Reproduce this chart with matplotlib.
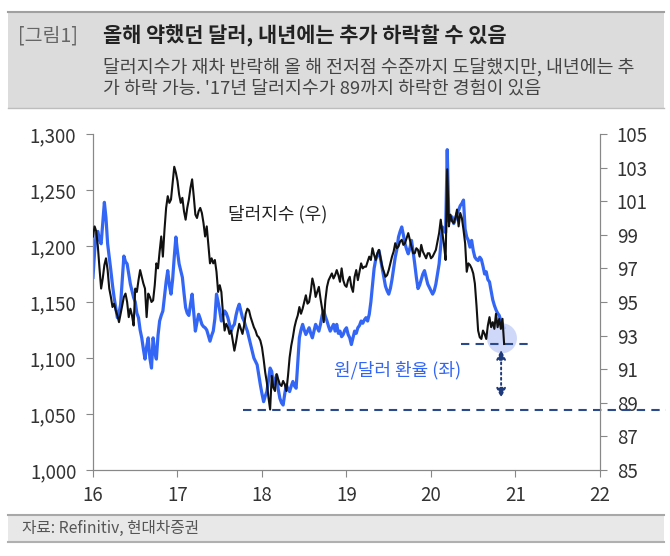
import numpy as np
import matplotlib
matplotlib.use("Agg")
import matplotlib.pyplot as plt
from matplotlib.patches import Rectangle, Ellipse

plt.rcParams["font.family"] = ["Noto Sans CJK KR", "DejaVu Sans"]
plt.rcParams["axes.unicode_minus"] = False

# --------------------------
# 데이터: 주간 (2016년 1주차부터)
# --------------------------
# 원/달러 환율 (좌축)
krw = [
    1172, 1195, 1211, 1213, 1205, 1202, 1220, 1239, 1225, 1202,
    1190, 1178, 1165, 1154, 1145, 1136, 1140, 1148, 1170, 1191,
    1186, 1184, 1175, 1166, 1160, 1154, 1150, 1140, 1136, 1125,
    1118, 1108, 1099, 1110, 1118, 1100, 1091, 1118, 1105, 1099,
    1120, 1133, 1138, 1142, 1155, 1168, 1178, 1165, 1157, 1170,
    1190, 1208, 1195, 1184, 1178, 1172, 1158, 1145, 1140, 1138,
    1148, 1157, 1140, 1124, 1132, 1139, 1135, 1130, 1128, 1127,
    1125, 1120, 1115, 1120, 1124, 1135, 1157, 1150, 1142, 1133,
    1138, 1142, 1140, 1136, 1130, 1124, 1128, 1130, 1138, 1144,
    1148, 1142, 1136, 1133, 1128, 1124, 1118, 1112, 1106, 1100,
    1097, 1094, 1085, 1076, 1068, 1061, 1066, 1070, 1080, 1091,
    1088, 1076, 1080, 1085, 1072, 1064, 1060, 1058, 1068, 1076,
    1072, 1070, 1075, 1079, 1075, 1073, 1095, 1118, 1125, 1130,
    1125, 1121, 1124, 1127, 1122, 1118, 1124, 1130, 1127, 1124,
    1130, 1138, 1142, 1137, 1133, 1128, 1124, 1127, 1130, 1124,
    1130, 1122, 1124, 1119, 1121, 1125, 1127, 1121, 1118, 1112,
    1118, 1124, 1122, 1127, 1129, 1133, 1131, 1134, 1136, 1133,
    1139, 1150, 1165, 1180, 1188, 1192, 1196, 1188, 1180, 1172,
    1164, 1160, 1157, 1162, 1170, 1180, 1190, 1197, 1208, 1213,
    1217, 1210, 1202, 1197, 1193, 1198, 1205, 1195, 1184, 1172,
    1162, 1165, 1170, 1175, 1178, 1172, 1166, 1163, 1160, 1157,
    1160, 1166, 1175, 1184, 1200, 1217, 1214, 1212, 1286, 1222,
    1225, 1226, 1220, 1224, 1229, 1232, 1236, 1238, 1241, 1215,
    1208, 1205, 1199, 1205, 1196, 1190, 1188, 1187, 1190, 1188,
    1182, 1175, 1177, 1170, 1168, 1160, 1152, 1147, 1143, 1140,
    1138, 1133, 1130, 1127,
]

# 달러지수 (우축)
dxy = [
    98.9, 99.5, 99.2, 98.3, 97.0, 95.8, 96.4, 97.2, 97.6, 96.9,
    95.8, 95.3, 94.7, 94.9, 94.5, 94.2, 93.8, 94.3, 94.8, 95.3,
    95.5, 95.0, 94.1, 94.6, 94.2, 93.6, 95.8, 95.6, 96.3, 96.9,
    96.5, 96.1, 95.8, 94.1, 95.5, 95.3, 95.0, 95.1, 96.0, 97.3,
    97.0, 98.0, 98.9, 97.7, 99.3, 100.6, 101.3, 100.9, 101.1, 102.1,
    103.05, 102.7, 102.2, 101.4, 100.9, 101.2, 100.4, 99.9, 100.6, 101.1,
    101.8, 102.3, 101.3, 100.2, 100.0, 100.4, 100.6, 100.3, 99.7, 98.9,
    99.5, 98.4, 97.3, 97.6, 97.3, 97.5, 96.8, 95.6, 96.0, 95.6,
    94.3, 93.3, 93.7, 93.5, 93.1, 93.3, 92.7, 92.1, 92.6, 93.2,
    93.7, 93.4, 93.1, 93.6, 94.3, 94.6, 94.5, 94.1, 93.8, 93.5,
    93.3, 93.0, 92.9, 92.7, 92.3, 91.6, 90.8, 90.2, 89.3, 88.6,
    90.6, 89.9, 89.7, 90.7, 90.4, 90.1, 90.0, 90.3, 90.1, 89.7,
    90.6, 91.7, 92.4, 92.9, 93.5, 93.9, 94.2, 94.7, 94.3, 94.6,
    95.0, 95.4, 94.9, 95.0, 95.6, 96.4, 96.0, 95.3, 95.6, 95.9,
    95.2, 94.6, 93.8, 95.1, 95.9, 96.3, 96.5, 96.7, 96.4, 96.6,
    96.9, 96.6, 96.2, 97.0, 96.3, 96.0, 95.9, 96.3, 96.5, 95.9,
    95.6, 96.5, 96.9, 96.3, 96.8, 97.3, 97.0, 97.1, 97.1, 97.4,
    97.7, 97.5, 98.2, 97.8, 97.5, 97.9, 98.1, 97.6, 97.1, 96.8,
    96.5, 96.6, 96.9, 97.3, 97.7, 98.0, 98.5, 98.2, 98.3, 98.6,
    98.7, 98.4, 98.5, 98.8, 99.1, 98.7, 98.3, 97.9, 97.9, 98.2,
    98.1, 97.7, 98.4, 98.0, 97.8, 97.6, 97.9, 97.9, 97.6, 97.7,
    97.9, 98.1, 98.6, 99.1, 99.9, 99.1, 98.4, 97.5, 102.9, 99.5,
    100.2, 99.8, 99.7, 100.0, 100.5, 99.5, 100.3, 100.0, 99.3, 98.5,
    96.8, 97.3, 97.2, 97.0, 96.7, 96.1, 94.8, 93.3, 92.9, 92.8,
    93.3, 93.1, 92.8, 93.6, 94.1, 93.5, 93.8, 93.4, 94.3, 93.5,
    94.0, 93.4, 94.0, 92.5,
]

krw_x = 16 + np.arange(len(krw)) / 52
dxy_x = 16 + np.arange(len(dxy)) / 52

low_2018 = 88.6     # '18년 달러지수 저점
now_level = 92.5    # 현재 수준

blue = "#3366F5"
navy = "#2B4A8C"

# --------------------------
# 그림
# --------------------------
fig = plt.figure(figsize=(6.7, 5.56), dpi=100)
fig.patch.set_facecolor("white")

# 상단 제목 박스
fig.patches.append(Rectangle((0.012, 0.806), 0.979, 0.172, transform=fig.transFigure,
                             facecolor="#DCDCDC", edgecolor="none", zorder=0))
fig.add_artist(plt.Line2D([0.012, 0.991], [0.978, 0.978], transform=fig.transFigure,
                          color="#A0A0A0", lw=1.5))
fig.add_artist(plt.Line2D([0.012, 0.991], [0.806, 0.806], transform=fig.transFigure,
                          color="#BDBDBD", lw=1))
fig.text(0.027, 0.936, "[그림1]", fontsize=14, color="#666666", va="center")
fig.text(0.153, 0.936, "올해 약했던 달러, 내년에는 추가 하락할 수 있음", fontsize=15,
         fontweight="bold", color="#222222", va="center")
fig.text(0.153, 0.879, "달러지수가 재차 반락해 올 해 전저점 수준까지 도달했지만, 내년에는 추",
         fontsize=13.2, color="#444444", va="center")
fig.text(0.153, 0.841, "가 하락 가능. '17년 달러지수가 89까지 하락한 경험이 있음",
         fontsize=13.2, color="#444444", va="center")

# 하단 출처
fig.patches.append(Rectangle((0.012, 0.025), 0.979, 0.049, transform=fig.transFigure,
                             facecolor="#E8E8E8", edgecolor="none", zorder=0))
fig.add_artist(plt.Line2D([0.012, 0.991], [0.073, 0.073], transform=fig.transFigure,
                          color="#A8A8A8", lw=1.5))
fig.add_artist(plt.Line2D([0.012, 0.991], [0.026, 0.026], transform=fig.transFigure,
                          color="#B0B0B0", lw=1.5))
fig.text(0.033, 0.049, "자료: Refinitiv, 현대차증권", fontsize=11.3, color="#555555", va="center")

# 본문 차트
ax = fig.add_axes([0.1388, 0.1547, 0.7567, 0.6043])
ax2 = ax.twinx()

ax.plot(krw_x, krw, color=blue, lw=2.3, solid_joinstyle="round")
ax2.plot(dxy_x, dxy, color="#111111", lw=1.5, solid_joinstyle="round", zorder=3)

ax.set_xlim(16, 22)
ax.set_ylim(1000, 1300)
ax2.set_ylim(85, 105)
ax.set_xticks(range(16, 23))
ax.set_yticks(range(1000, 1301, 50))
ax.set_yticklabels([f"{v:,}" for v in range(1000, 1301, 50)])
ax2.set_yticks(range(85, 106, 2))

for a in (ax, ax2):
    a.spines["top"].set_visible(False)
    for side in ("left", "right", "bottom"):
        a.spines[side].set_color("#888888")
    a.tick_params(colors="#888888", labelcolor="#333333", labelsize=13.5, length=5, pad=7)
ax.tick_params(axis="x", pad=6)

# 주석: 원, 점선, 화살표
ax2.add_patch(Ellipse((20.84, 92.84), 0.355, 1.79, facecolor="#C7D2F7",
                      edgecolor="none", alpha=0.85, zorder=1))
ax2.plot([20.36, 21.17], [now_level, now_level], color=navy, lw=1.5, ls=(0, (4, 3)), zorder=2)
ax2.plot([17.78, 22.78], [low_2018, low_2018], color=navy, lw=1.5, ls=(0, (4, 3)),
         clip_on=False, zorder=2)
ax2.annotate("", xy=(20.83, 89.3), xytext=(20.83, 92.15),
             arrowprops=dict(arrowstyle="<|-|>", color="#1F3A7A", lw=1.4, ls=":",
                             mutation_scale=14, shrinkA=0, shrinkB=0))

ax2.text(18.18, 100.2, "달러지수 (우)", fontsize=13, color="#222222", ha="center", va="center")
ax.text(19.6, 1089, "원/달러 환율 (좌)", fontsize=13, color=blue, ha="center", va="center")

plt.savefig("out.png", dpi=100)
